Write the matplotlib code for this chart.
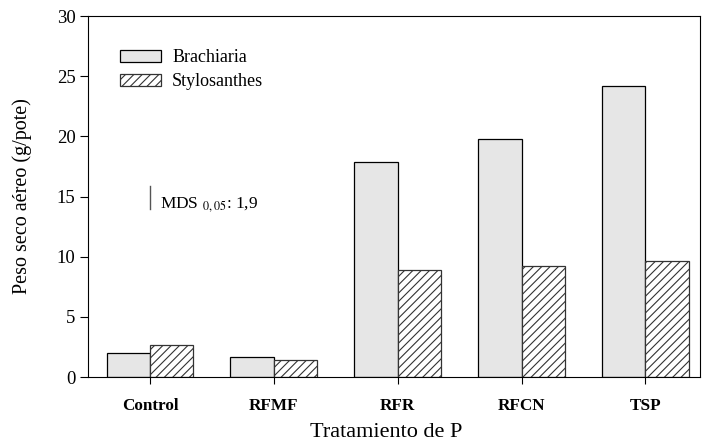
import numpy as np
import matplotlib.pyplot as plt

# data
tratamientos = ["Control", "RFMF", "RFR", "RFCN", "TSP"]
brachiaria = [2.0, 1.7, 17.9, 19.8, 24.2]
stylosanthes = [2.7, 1.4, 8.9, 9.2, 9.6]
mds = 1.9

plt.rcParams["font.family"] = ["Liberation Serif", "DejaVu Serif"]
plt.rcParams["hatch.linewidth"] = 0.8
plt.rcParams["hatch.color"] = "#333333"
plt.rcParams["mathtext.fontset"] = "stix"

fig = plt.figure(figsize=(7.02, 4.41), dpi=100)
ax = fig.add_axes([0.1254, 0.1451, 0.8716, 0.8186])

x = np.arange(len(tratamientos))
w = 0.35
ax.bar(x - w / 2, brachiaria, w, color="#e6e6e6", edgecolor="black",
       linewidth=0.9, label="Brachiaria")
ax.bar(x + w / 2, stylosanthes, w, color="white", edgecolor="#333333",
       linewidth=0.9, hatch="////", label="Stylosanthes")

ax.set_xlim(-0.5, 4.44)
ax.set_ylim(0, 30)
ax.set_yticks(np.arange(0, 31, 5))
ax.set_xticks(x)
ax.set_xticklabels(tratamientos, fontsize=12.3, fontweight="bold")
ax.tick_params(axis="y", labelsize=13.5, direction="out", length=6, width=0.8, pad=3)
ax.tick_params(axis="x", direction="out", length=5, width=0.8, pad=10)
for s in ax.spines.values():
    s.set_linewidth(0.8)

ax.set_xlabel("Tratamiento de P", fontsize=16)
ax.set_ylabel("Peso seco aéreo (g/pote)", fontsize=14.5)
ax.xaxis.set_label_coords(0.488, -0.128)
ax.yaxis.set_label_coords(-0.092, 0.5)

# MDS bar
ax.plot([0, 0], [14.0, 14.0 + mds], color="#555555", linewidth=1)
ax.text(0.08, 14.1, r"MDS $_{0,05}$: 1,9", fontsize=12.5, va="baseline")

ax.legend(loc="upper left", bbox_to_anchor=(0.052, 0.908), frameon=False,
          fontsize=13, handlelength=2.3, handleheight=0.6, handletextpad=0.6,
          labelspacing=0.4, borderpad=0, borderaxespad=0)

fig.savefig("out.png", dpi=100)
